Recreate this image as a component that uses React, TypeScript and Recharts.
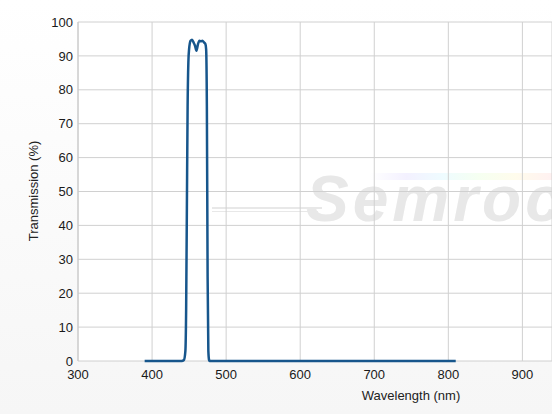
import { CartesianGrid, Line, LineChart, XAxis, YAxis } from "recharts";

// wavelength (nm) and transmission (%)
const wavelengths = [
  390, 440, 443, 445, 446, 447, 448, 449, 450, 452, 454, 456, 458, 460, 462,
  464, 466, 468, 470, 472, 473, 474, 475, 476, 477, 478, 810,
];
const transmission = [
  0, 0, 0.3, 3, 15, 45, 75, 88, 92, 94.5, 94.8, 94, 93, 91.5, 93.5, 94.5, 94.3,
  94.5, 94, 93.5, 92, 75, 25, 3, 0.3, 0, 0,
];
const xTicks = [300, 400, 500, 600, 700, 800, 900];
const yTicks = [0, 10, 20, 30, 40, 50, 60, 70, 80, 90, 100];

const data = wavelengths.map((nm, i) => ({ nm, t: transmission[i] }));

const FONT = '"Liberation Sans", Arial, sans-serif';
const tickStyle = { fontSize: 13, fill: "#1a1a1a", fontFamily: FONT };

const YLabel = () => (
  <text
    x={33}
    y={191}
    transform="rotate(-90 33 191)"
    textAnchor="middle"
    dominantBaseline="central"
    fontSize={13}
    fontFamily={FONT}
    fill="#222"
  >
    Transmission (%)
  </text>
);

const XLabel = () => (
  <text
    x={411}
    y={400}
    textAnchor="middle"
    fontSize={13}
    fontFamily={FONT}
    fill="#222"
  >
    Wavelength (nm)
  </text>
);

export default function App() {
  return (
    <div
      style={{
        position: "relative",
        width: 552,
        height: 414,
        overflow: "hidden",
        background: "linear-gradient(to bottom, #ffffff, #f6f6f6)",
      }}
    >
      <style>{`body{margin:0}`}</style>
      {/* white plot area + faded watermark behind the svg */}
      <div
        style={{
          position: "absolute",
          left: 78,
          top: 22,
          width: 474,
          height: 339,
          background: "#fff",
        }}
      />
      <div
        style={{
          position: "absolute",
          left: 370,
          top: 173,
          width: 182,
          height: 7,
          opacity: 0.3,
          background:
            "linear-gradient(to right, #ffffff, #d8d0ff, #c8f4ff, #e0ffd0, #fff4c0, #ffd0d0)",
        }}
      />
      <div
        style={{
          position: "absolute",
          left: 212,
          top: 207,
          width: 110,
          height: 2,
          background: "#e8e8e8",
        }}
      />
      <div
        style={{
          position: "absolute",
          left: 212,
          top: 211,
          width: 106,
          height: 1,
          background: "#e8e8e8",
        }}
      />
      <div
        style={{
          position: "absolute",
          left: 306,
          top: 162,
          fontFamily: FONT,
          fontWeight: "bold",
          fontStyle: "italic",
          fontSize: 64,
          letterSpacing: 4,
          color: "#e8e8e8",
          whiteSpace: "nowrap",
        }}
      >
        Semrock
      </div>
      <div style={{ position: "absolute", left: 0, top: 0 }}>
        <LineChart
          width={552}
          height={414}
          data={data}
          margin={{ top: 22, right: 0, bottom: 0, left: 0 }}
        >
          <CartesianGrid stroke="#d0d0d0" strokeWidth={1} />
          <XAxis
            dataKey="nm"
            type="number"
            domain={[300, 940]}
            ticks={xTicks}
            height={53}
            tick={tickStyle}
            tickLine={false}
            tickSize={0}
            tickMargin={9}
            axisLine={false}
            label={<XLabel />}
          />
          <YAxis
            type="number"
            domain={[0, 100]}
            ticks={yTicks}
            width={78}
            tick={tickStyle}
            tickLine={false}
            tickSize={0}
            tickMargin={5}
            axisLine={{ stroke: "#c8c8c8" }}
            label={<YLabel />}
          />
          <Line
            dataKey="t"
            type="monotone"
            stroke="#17568c"
            strokeWidth={2.5}
            dot={false}
            isAnimationActive={false}
          />
        </LineChart>
      </div>
    </div>
  );
}
